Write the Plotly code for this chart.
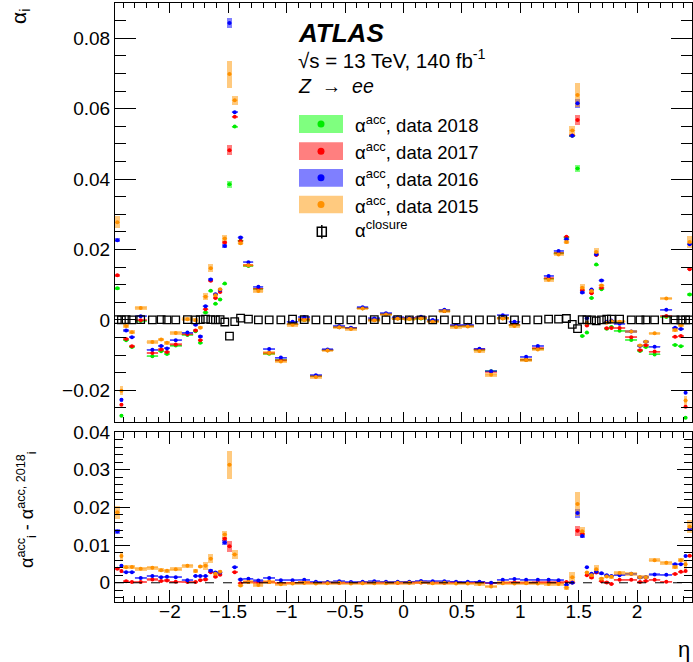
import numpy as np
import plotly.graph_objects as go

# ---------------- data ----------------
eta_edges_pos = [0.0, 0.1, 0.2, 0.3, 0.4, 0.5, 0.6, 0.7, 0.8, 0.9, 1.0, 1.1, 1.2,
                 1.285, 1.37, 1.42, 1.47, 1.51, 1.55, 1.59, 1.63, 1.67, 1.72, 1.76,
                 1.8, 1.9, 2.0, 2.05, 2.1, 2.2, 2.3, 2.35, 2.4, 2.43, 2.47]

alpha_2018 = [0.0090, -0.0272, -0.0058, -0.0077, -0.0003, -0.0103, -0.0089, -0.0097, -0.0073, -0.0043,
              -0.0032, -0.0065, 0.0021, 0.0083, 0.0046, 0.0058, 0.0103, 0.0385, 0.0549, 0.0225,
              0.0153, 0.0088, -0.0096, -0.0114, -0.0012, 0.0000, -0.0160, -0.0086, -0.0021, -0.0024,
              0.0033, 0.0000, 0.0016, 0.0004,
              0.0003, 0.0004, -0.0004, 0.0025, -0.0018, -0.0017, -0.0085, -0.0146, 0.0005, -0.0015,
              -0.0113, -0.0082, 0.0117, 0.0189, 0.0234, 0.0523, 0.0430, -0.0046, -0.0036, 0.0062,
              0.0157, 0.0087, -0.0025, -0.0020, -0.0031, -0.0057, -0.0088, -0.0077, -0.0098, 0.0008,
              -0.0071, -0.0075, -0.0278, 0.0072]

alpha_2017 = [0.0127, -0.0241, -0.0054, -0.0075, -0.0001, -0.0094, -0.0084, -0.0091, -0.0070, -0.0041,
              -0.0030, -0.0058, 0.0030, 0.0111, 0.0062, 0.0079, 0.0220, 0.0482, 0.0577, 0.0224,
              0.0155, 0.0089, -0.0094, -0.0115, -0.0012, 0.0001, -0.0160, -0.0086, -0.0021, -0.0024,
              0.0033, 0.0000, 0.0016, 0.0004,
              0.0004, 0.0005, -0.0004, 0.0025, -0.0017, -0.0017, -0.0084, -0.0147, 0.0005, -0.0014,
              -0.0113, -0.0081, 0.0118, 0.0190, 0.0236, 0.0524, 0.0568, 0.0084, -0.0016, 0.0076,
              0.0184, 0.0091, -0.0024, -0.0023, -0.0023, -0.0049, -0.0086, -0.0072, -0.0090, 0.0011,
              -0.0048, -0.0046, -0.0247, 0.0144]

alpha_2016 = [0.0226, -0.0227, -0.0030, -0.0049, 0.0010, -0.0085, -0.0074, -0.0081, -0.0058, -0.0036,
              -0.0014, -0.0047, 0.0039, 0.0115, 0.0073, 0.0085, 0.0210, 0.0843, 0.0590, 0.0234,
              0.0164, 0.0094, -0.0083, -0.0107, -0.0005, 0.0008, -0.0157, -0.0084, -0.0017, -0.0022,
              0.0036, 0.0004, 0.0019, 0.0007,
              0.0006, 0.0009, 0.0000, 0.0029, -0.0015, -0.0014, -0.0082, -0.0146, 0.0013, -0.0005,
              -0.0105, -0.0074, 0.0125, 0.0196, 0.0229, 0.0523, 0.0615, 0.0078, 0.0005, 0.0086,
              0.0186, 0.0112, -0.0005, -0.0002, -0.0011, -0.0033, -0.0074, -0.0062, -0.0076, 0.0029,
              -0.0022, -0.0026, -0.0207, 0.0215]

alpha_2015 = [0.0277, -0.0201, -0.0017, -0.0035, 0.0034, -0.0063, -0.0056, -0.0065, -0.0037, 0.0002,
              -0.0001, -0.0022, 0.0066, 0.0147, 0.0070, 0.0087, 0.0231, 0.0698, 0.0624, 0.0218,
              0.0155, 0.0082, -0.0094, -0.0118, -0.0014, 0.0000, -0.0162, -0.0087, -0.0021, -0.0026,
              0.0032, -0.0001, 0.0015, 0.0004,
              0.0003, 0.0005, -0.0005, 0.0025, -0.0020, -0.0019, -0.0088, -0.0156, 0.0004, -0.0017,
              -0.0114, -0.0084, 0.0114, 0.0186, 0.0221, 0.0538, 0.0639, 0.0091, -0.0009, 0.0082,
              0.0193, 0.0098, -0.0008, -0.0004, -0.0005, -0.0033, -0.0073, -0.0062, -0.0038, 0.0061,
              -0.0029, -0.0015, -0.0229, 0.0221]

alpha_closure = [0.0001, 0.0000, 0.0001, 0.0000, 0.0001, 0.0000, 0.0001, 0.0000, 0.0000, 0.0001,
                 0.0000, 0.0001, 0.0002, 0.0001, 0.0000, 0.0001, -0.0006, -0.0046, -0.0005, 0.0005,
                 0.0002, 0.0000, 0.0000, 0.0000, 0.0002, 0.0001, 0.0000, 0.0000, 0.0000, 0.0000,
                 0.0000, 0.0001, 0.0000, 0.0001,
                 0.0000, 0.0000, 0.0000, 0.0000, 0.0000, 0.0000, 0.0000, 0.0000, 0.0001, 0.0000,
                 0.0000, 0.0000, 0.0002, 0.0002, 0.0004, -0.0013, -0.0025, 0.0001, 0.0000, 0.0000,
                 -0.0003, 0.0000, 0.0002, 0.0002, 0.0002, 0.0000, 0.0000, 0.0000, 0.0000, 0.0000,
                 0.0000, 0.0000, 0.0000, 0.0000]

# half-height of the shaded uncertainty boxes
unc_2018 = [0.0004, 0.0004] + [0.0003] * 15 + [0.00095] + [0.0003] * 32 + [0.00095] + [0.0003] * 17
unc_2017 = [0.0004, 0.0004] + [0.0003] * 14 + [0.0005, 0.0014] + [0.0003] * 32 + [0.0014] + [0.0003] * 17
unc_2016 = [0.0006, 0.0005] + [0.0003] * 11 + [0.0005, 0.0003, 0.0003, 0.0006, 0.0015] + [0.0003] * 32 \
           + [0.0012, 0.0005] + [0.0003] * 16
unc_2015 = [0.0017, 0.0012] + [0.0005] * 10 + [0.001, 0.0012, 0.0005, 0.0005, 0.001, 0.0038, 0.0013] \
           + [0.0005] * 30 + [0.0013, 0.0033, 0.001, 0.0005, 0.0005, 0.0012] + [0.0005] * 11 + [0.0012, 0.0017]

# ---------------- geometry helpers ----------------
edges = np.array([-e for e in eta_edges_pos[:0:-1]] + eta_edges_pos)
centers = 0.5 * (edges[:-1] + edges[1:])
halfw = 0.5 * (edges[1:] - edges[:-1])

W, H = 693, 662
ML, MR, MT, MB = 115, 1, 3, 60
PW, PH = W - ML - MR, H - MT - MB


def xp(px):
    return (px - ML) / PW


def yp(py):
    return (H - MB - py) / PH


FONT = "Liberation Sans, Arial, Helvetica, sans-serif"

series = [
    ("2018", alpha_2018, unc_2018, "rgb(0,235,0)", "rgba(0,255,0,0.5)", "rgba(0,220,0,0.55)"),
    ("2017", alpha_2017, unc_2017, "rgb(255,0,0)", "rgba(255,0,0,0.5)", "rgba(255,0,0,0.55)"),
    ("2016", alpha_2016, unc_2016, "rgb(0,0,255)", "rgba(0,0,255,0.5)", "rgba(0,0,255,0.55)"),
    ("2015", alpha_2015, unc_2015, "rgb(255,145,0)", "rgba(255,150,0,0.5)", "rgba(255,150,0,0.6)"),
]

ref = np.array(alpha_2018)
fig = go.Figure()
for year, vals, unc, mcol, bcol, lcol in series:
    v = np.array(vals)
    u = np.array(unc)
    panels = [("x", "y", v)]
    if year != "2018":
        panels.append(("x2", "y2", v - ref))
    for xa, ya, yv in panels:
        fig.add_trace(go.Bar(x=centers, y=2 * u, base=yv - u, width=2 * halfw,
                             marker=dict(color=bcol, line=dict(width=0)),
                             xaxis=xa, yaxis=ya, showlegend=False, hoverinfo="skip"))
        fig.add_trace(go.Scatter(x=centers, y=yv, mode="markers",
                                 marker=dict(color=mcol, size=4),
                                 error_x=dict(type="data", array=halfw, color=lcol, thickness=1, width=0),
                                 xaxis=xa, yaxis=ya, showlegend=False, hoverinfo="skip"))

fig.add_trace(go.Scatter(x=centers, y=alpha_closure, mode="markers",
                         marker=dict(symbol="square-open", size=7.5, color="black", line=dict(width=1.3)),
                         xaxis="x", yaxis="y", showlegend=False, hoverinfo="skip"))

axis_common = dict(showline=True, linecolor="black", linewidth=1, mirror="allticks",
                   ticks="inside", tickcolor="black", tickwidth=1, showgrid=False, zeroline=False,
                   automargin=False,
                   tickfont=dict(family=FONT, size=19, color="black"))

top_dom = [yp(422), 1.0]
bot_dom = [0.0, yp(431.7)]

fig.update_layout(
    width=W, height=H, margin=dict(l=ML, r=MR, t=MT, b=MB, autoexpand=False),
    plot_bgcolor="white", paper_bgcolor="white", barmode="overlay", bargap=0,
    showlegend=False,
    xaxis=dict(domain=[0, 1], anchor="y", range=[-2.47, 2.47], tick0=0, dtick=0.5, ticklen=10,
               showticklabels=False,
               minor=dict(dtick=0.1, tick0=0, ticklen=5, ticks="inside", tickcolor="black"),
               **axis_common),
    xaxis2=dict(domain=[0, 1], anchor="y2", range=[-2.47, 2.47], tick0=0, dtick=0.5, ticklen=12,
                matches="x", ticklabelstandoff=-8,
                minor=dict(dtick=0.1, tick0=0, ticklen=6, ticks="inside", tickcolor="black"),
                **axis_common),
    yaxis=dict(domain=top_dom, anchor="x", range=[-0.029, 0.09], tick0=0, dtick=0.02, ticklen=21,
               minor=dict(dtick=0.005, tick0=0, ticklen=11, ticks="inside", tickcolor="black"),
               **axis_common),
    yaxis2=dict(domain=bot_dom, anchor="x2", range=[-0.0051, 0.0401], tick0=0, dtick=0.01, ticklen=15,
                minor=dict(dtick=0.002, tick0=0, ticklen=8, ticks="inside", tickcolor="black"),
                **axis_common),
)

# dashed zero line in ratio panel
fig.add_shape(type="line", xref="x2 domain", yref="y2", x0=0, x1=1, y0=0, y1=0,
              line=dict(color="black", width=1, dash="dash"))

ann = []
ann.append(dict(text="<b><i>ATLAS</i></b>", x=xp(296), y=yp(33), xanchor="left", yanchor="middle",
                font=dict(family=FONT, size=26, color="black")))
ann.append(dict(text="√s = 13 TeV, 140 fb<sup>-1</sup>", x=xp(296), y=yp(59), xanchor="left",
                yanchor="middle", font=dict(family=FONT, size=20.5, color="black")))
ann.append(dict(text="<i>Z</i>  →  <i>ee</i>", x=xp(296), y=yp(86), xanchor="left", yanchor="middle",
                font=dict(family=FONT, size=19.5, color="black")))

# manual legend
leg_rows = [("2018", 115, 133), ("2017", 142.3, 160), ("2016", 169, 186.7), ("2015", 195.7, 213.3)]
for (year, y0, y1), (_, _, _, mcol, bcol, _) in zip(leg_rows, series):
    fig.add_shape(type="rect", xref="paper", yref="paper", x0=xp(299), x1=xp(343), y0=yp(y1), y1=yp(y0),
                  fillcolor=bcol, line=dict(width=0))
    yc = 0.5 * (y0 + y1)
    fig.add_shape(type="circle", xref="paper", yref="paper", x0=xp(317.5), x1=xp(324.5),
                  y0=yp(yc + 3.5), y1=yp(yc - 3.5), fillcolor=mcol, line=dict(width=0))
    ann.append(dict(text="α<sup>acc</sup>, data " + year, x=xp(353), y=yp(yc), xanchor="left",
                    yanchor="middle", font=dict(family=FONT, size=18.5, color="black")))
fig.add_shape(type="rect", xref="paper", yref="paper", x0=xp(317.3), x1=xp(326.3), y0=yp(236.2), y1=yp(227.2),
              line=dict(color="black", width=1.5), fillcolor="rgba(0,0,0,0)")
fig.add_shape(type="line", xref="paper", yref="paper", x0=xp(321.8), x1=xp(321.8), y0=yp(238.5), y1=yp(225),
              line=dict(color="black", width=1.5))
ann.append(dict(text="α<sup>closure</sup>", x=xp(353), y=yp(229), xanchor="left", yanchor="middle",
                font=dict(family=FONT, size=18.5, color="black")))

# axis titles
ann.append(dict(text="α<sub>i</sub>", x=xp(20), y=yp(17), xanchor="center", yanchor="middle",
                textangle=-90, font=dict(family=FONT, size=21, color="black")))
ann.append(dict(text="α<sup>acc</sup><sub>i</sub> - α<sup>acc, 2018</sup><sub>i</sub>", x=xp(27), y=yp(510),
                xanchor="center", yanchor="middle", textangle=-90,
                font=dict(family=FONT, size=18, color="black")))
ann.append(dict(text="η", x=xp(684), y=yp(650), xanchor="center", yanchor="middle",
                font=dict(family=FONT, size=22, color="black")))

for a in ann:
    a.update(xref="paper", yref="paper", showarrow=False)
fig.update_layout(annotations=ann)

fig.write_html("out.html", config={"displayModeBar": False, "staticPlot": True},
               post_script="document.body.style.margin='0';document.body.style.padding='0';")
